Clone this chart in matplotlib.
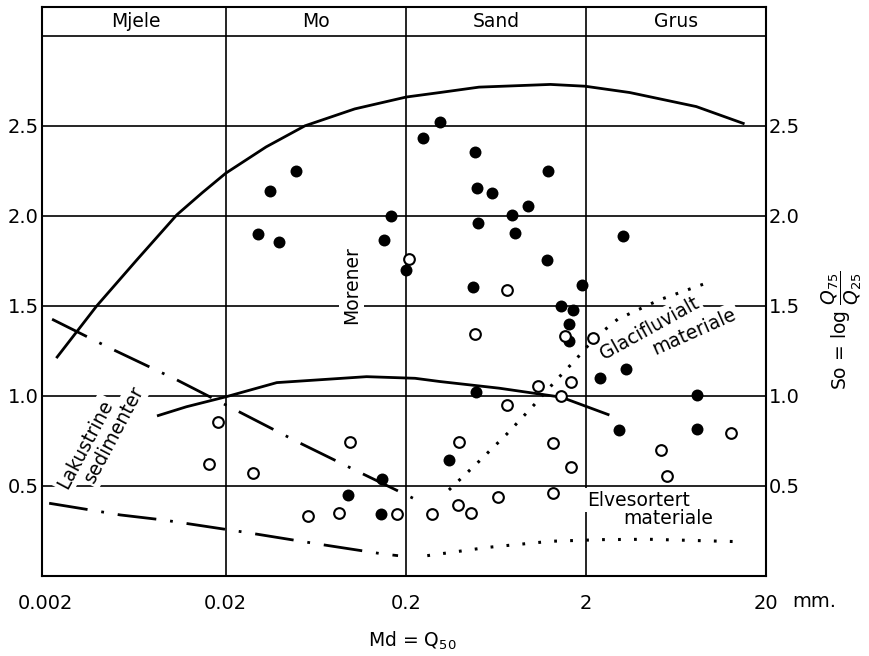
import matplotlib
matplotlib.use("Agg")
import matplotlib.pyplot as plt

plt.rcParams['font.family'] = ['DejaVu Sans']
plt.rcParams['lines.scale_dashes'] = False

# ---------------- data ----------------
class_names = ["Mjele", "Mo", "Sand", "Grus"]
class_limits = [0.002, 0.02, 0.2, 2, 20]

x_ticks = [0.002, 0.02, 0.2, 2, 20]
x_tick_labels = ["0.002", "0.02", "0.2", "2", "20"]
y_ticks = [0.5, 1.0, 1.5, 2.0, 2.5]
y_tick_labels = ["0.5", "1.0", "1.5", "2.0", "2.5"]

# filled circles (moraine samples)
filled_md = [0.049, 0.0352, 0.0301, 0.0397, 0.165, 0.151, 0.2, 0.309, 0.25, 0.484,
             1.23, 0.496, 0.598, 0.958, 0.78, 0.5, 0.81, 3.2, 1.21, 0.47,
             1.89, 1.45, 1.69, 1.62, 1.62, 2.38, 3.36, 0.492, 3.07, 8.3,
             8.3, 0.346, 0.148, 0.0955, 0.146]
filled_so = [2.25, 2.14, 1.90, 1.854, 2.00, 1.865, 1.70, 2.52, 2.43, 2.357,
             2.25, 2.157, 2.128, 2.054, 2.004, 1.96, 1.907, 1.889, 1.756, 1.604,
             1.615, 1.502, 1.476, 1.40, 1.304, 1.10, 1.15, 1.022, 0.81, 1.006,
             0.817, 0.644, 0.541, 0.45, 0.344]

# open circles (sorted material)
open_md = [0.2077, 0.726, 0.483, 1.53, 2.2, 1.09, 1.66, 1.46, 0.726, 12.8,
           5.2, 5.64, 0.394, 1.32, 1.66, 1.31, 0.65, 0.388, 0.46, 0.278,
           0.018, 0.0162, 0.0284, 0.098, 0.057, 0.085, 0.179]
open_so = [1.76, 1.59, 1.346, 1.333, 1.324, 1.057, 1.076, 1.002, 0.95, 0.794,
           0.70, 0.557, 0.744, 0.737, 0.607, 0.459, 0.437, 0.396, 0.348, 0.344,
           0.854, 0.624, 0.574, 0.743, 0.333, 0.348, 0.343]

# upper solid envelope (Morener)
moraine_upper_md = [0.00229, 0.00384, 0.00642, 0.0107, 0.01478, 0.02, 0.0335, 0.055,
                    0.104, 0.201, 0.309, 0.51, 1.27, 1.98, 3.5, 8.2, 15.2]
moraine_upper_so = [1.21, 1.5, 1.756, 2.006, 2.128, 2.237, 2.383, 2.5,
                    2.594, 2.66, 2.685, 2.715, 2.73, 2.72, 2.685, 2.607, 2.511]

# lower solid curve
moraine_lower_md = [0.0083, 0.0121, 0.02, 0.0384, 0.121, 0.225, 0.309, 0.66, 1.46, 2.7]
moraine_lower_so = [0.889, 0.94, 0.995, 1.074, 1.107, 1.098, 1.08, 1.043, 0.993, 0.894]

# dash-dot boundaries (Lakustrine sedimenter)
lake_upper_md = [0.00217, 0.00456, 0.0107, 0.02, 0.0505, 0.109, 0.24]
lake_upper_so = [1.426, 1.265, 1.089, 0.95, 0.743, 0.579, 0.413]
lake_lower_md = [0.00209, 0.00338, 0.0052, 0.00902, 0.0267, 0.0667, 0.15, 0.181]
lake_lower_so = [0.404, 0.37, 0.339, 0.311, 0.24, 0.176, 0.122, 0.113]

# dotted boundaries (Glacifluvialt / Elvesortert materiale)
glacial_md = [0.347, 0.497, 0.725, 1.03, 1.36, 1.77, 2.24, 3.0, 5.1, 10.1]
glacial_so = [0.478, 0.626, 0.787, 0.95, 1.085, 1.206, 1.322, 1.426, 1.533, 1.639]
river_md = [0.263, 0.57, 1.28, 2.46, 4.45, 14.9]
river_so = [0.113, 0.159, 0.193, 0.202, 0.204, 0.19]

# ---------------- figure ----------------
W, H = 869, 656
fig = plt.figure(figsize=(W / 100, H / 100), dpi=100)
ax = fig.add_axes([41.7 / W, 80 / H, (766 - 41.7) / W, (576 - 7) / H])
ax.set_xscale('log')
ax.set_xlim(0.0019, 20)
ax.set_ylim(0, 3.16)

for s in ax.spines.values():
    s.set_linewidth(1.5)
    s.set_color('black')

# grid / band lines
for yv in y_ticks + [3.0]:
    ax.axhline(yv, color='black', lw=1.2, zorder=1)
for xv in class_limits[1:-1]:
    ax.axvline(xv, color='black', lw=1.2, zorder=1)

ax.set_xticks(x_ticks)
ax.set_xticklabels(x_tick_labels)
ax.minorticks_off()
ax.set_yticks(y_ticks)
ax.set_yticklabels(y_tick_labels)
ax.tick_params(axis='both', length=0, labelsize=14)
ax.tick_params(axis='x', pad=13)
ax.tick_params(axis='y', pad=2, labelright=True)

# class band labels
for i, name in enumerate(class_names):
    lo = max(class_limits[i], 0.0019)
    hi = class_limits[i + 1]
    xc = (lo * hi) ** 0.5
    ax.text(xc, 3.078, name, ha='center', va='center', fontsize=13.5, zorder=2)

# curves
ax.plot(moraine_upper_md, moraine_upper_so, color='black', lw=2.0, zorder=3,
        solid_capstyle='butt', solid_joinstyle='round')
ax.plot(moraine_lower_md, moraine_lower_so, color='black', lw=2.0, zorder=3,
        solid_capstyle='butt', solid_joinstyle='round')
dashdot = (0, (28, 10, 2, 10))
ax.plot(lake_upper_md, lake_upper_so, color='black', lw=2.0, ls=dashdot, zorder=3)
ax.plot(lake_lower_md, lake_lower_so, color='black', lw=2.0, ls=dashdot, zorder=3)
ax.plot(glacial_md, glacial_so, color='black', lw=2.2, ls=(0, (2, 7.5)), zorder=3)
ax.plot(river_md, river_so, color='black', lw=2.2, ls=(0, (2, 9.5)), zorder=3)

# points
ax.plot(filled_md, filled_so, ls='none', marker='o', ms=8.6, mfc='black',
        mec='black', mew=0, zorder=5)
ax.plot(open_md, open_so, ls='none', marker='o', ms=7.7, mfc='white',
        mec='black', mew=1.5, zorder=5)

# region labels
box = dict(boxstyle='square,pad=0.15', fc='white', ec='none')
ax.text(0.100, 1.617, "Morener", rotation=90, ha='center', va='center',
        fontsize=13.5, bbox=box, zorder=2)
ax.text(0.0033, 0.733, "Lakustrine", rotation=62, ha='center', va='center',
        fontsize=13.5, bbox=box, zorder=2, rotation_mode='anchor')
ax.text(0.0048, 0.789, "sedimenter", rotation=62, ha='center', va='center',
        fontsize=13.5, bbox=box, zorder=2, rotation_mode='anchor')
ax.text(4.5, 1.375, "Glacifluvialt", rotation=29, ha='center', va='center',
        fontsize=13.5, bbox=box, zorder=2, rotation_mode='anchor')
ax.text(8.0, 1.356, "materiale", rotation=24, ha='center', va='center',
        fontsize=13.5, bbox=box, zorder=2, rotation_mode='anchor')
ax.text(3.9, 0.422, "Elvesortert", ha='center', va='center',
        fontsize=13.5, bbox=box, zorder=2)
ax.text(5.7, 0.322, "materiale", ha='center', va='center',
        fontsize=13.5, zorder=2)

# axis titles
fig.text(792 / W, 1 - 601.7 / H, "mm.", ha='left', va='center', fontsize=14)
fig.text(412 / W, 1 - 641 / H, r"Md = Q$_{50}$", ha='center', va='center',
         fontsize=13.5)
fig.text(842 / W, 1 - 330 / H, r"So = log $\dfrac{Q_{75}}{Q_{25}}$", rotation=90,
         ha='center', va='center', fontsize=13.5)

fig.savefig("out.png", dpi=100, facecolor='white')
